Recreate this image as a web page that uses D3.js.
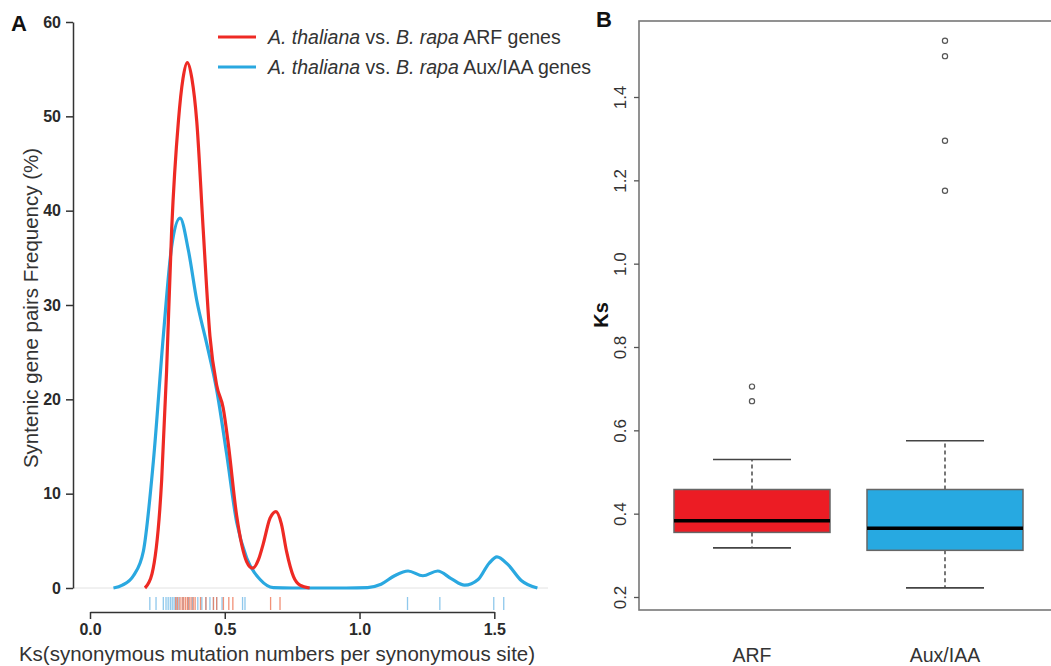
<!DOCTYPE html>
<html>
<head>
<meta charset="utf-8">
<script src="https://cdn.jsdelivr.net/npm/d3@7"></script>
<style>
  html, body { margin: 0; padding: 0; background: #fff; }
  svg { display: block; font-family: "Liberation Sans", Arial, sans-serif; }
</style>
</head>
<body>
<svg id="chart" width="1051" height="666"></svg>
<script>
// ---------- Panel A data (density curves) ----------
const arfKs   = [0.204, 0.23, 0.266, 0.284, 0.303, 0.328, 0.345, 0.361, 0.378, 0.396, 0.420, 0.445, 0.47, 0.494, 0.513, 0.544, 0.581, 0.603, 0.625, 0.643, 0.668, 0.690, 0.710, 0.729, 0.755, 0.779, 0.815];
const arfFreq = [0.0,   1.5,  11.5,  22.9,  38.0,  49.5,  54.0,  55.7,  54.0,  49.5,  38.0,  26.7,  21.5, 19.1,  15.3,  7.7,   2.8,   2.1,   3.0,   4.7,   7.4,   8.1,   6.8,   3.9,   1.2,   0.3,   0.0];

const auxKs   = [0.087, 0.12, 0.161, 0.198, 0.235, 0.272, 0.303, 0.334, 0.365, 0.396, 0.433, 0.470, 0.507, 0.544, 0.581, 0.631, 0.68, 0.75, 0.95, 1.03, 1.08, 1.13, 1.18, 1.235, 1.29, 1.34, 1.39, 1.44, 1.48, 1.51, 1.55, 1.60, 1.66];
const auxFreq = [0.0,   0.3,  1.3,   3.9,   13.4,  26.7,  36.2,  39.2,  35.8,  30.5,  25.9,  21.0,  14.2,  7.0,   3.2,   0.9,   0.05, 0.0,  0.0,  0.05, 0.4,  1.3,  1.8,  1.3,   1.8,  1.0,  0.3,  0.9,  2.6,  3.3,  2.5,  0.8,  0.0];

// rug values (Ks of individual gene pairs)
const arfRug = [0.318, 0.325, 0.334, 0.342, 0.348, 0.355, 0.362, 0.368, 0.375, 0.383, 0.39, 0.41, 0.43, 0.458, 0.47, 0.495, 0.515, 0.53, 0.67, 0.705];
const auxRug = [0.222, 0.245, 0.272, 0.282, 0.29, 0.298, 0.305, 0.312, 0.32, 0.33, 0.345, 0.365, 0.38, 0.40, 0.415, 0.43, 0.445, 0.458, 0.47, 0.49, 0.566, 0.575, 1.178, 1.298, 1.498, 1.535];

const xTicksA = [0.0, 0.5, 1.0, 1.5];
const yTicksA = [0, 10, 20, 30, 40, 50, 60];

// ---------- Panel B data (box plot summaries) ----------
const boxCats     = ["ARF", "Aux/IAA"];
const boxLow      = [0.318, 0.222];
const boxQ1       = [0.355, 0.312];
const boxMedian   = [0.383, 0.365];
const boxQ3       = [0.458, 0.458];
const boxHigh     = [0.530, 0.575];
const boxOutliers = [[0.670, 0.705], [1.175, 1.295, 1.498, 1.535]];
const yTicksB = [0.2, 0.4, 0.6, 0.8, 1.0, 1.2, 1.4];

const RED = "#ee2a24", BLUE = "#2aa8e0";
const RED_FILL = "#ec1c24", BLUE_FILL = "#27a9e1";
const FONT = "'Liberation Sans', Arial, sans-serif";

const svg = d3.select("#chart");

// ================= Panel A =================
const xA = d3.scaleLinear().domain([0, 1.5]).range([90, 494.3]);
const yA = d3.scaleLinear().domain([0, 60]).range([588, 22]);

// zero reference line
svg.append("line")
  .attr("x1", 74).attr("x2", 548)
  .attr("y1", yA(0)).attr("y2", yA(0))
  .attr("stroke", "#e2e2e2").attr("stroke-width", 1);

// y axis
const gyA = svg.append("g").attr("transform", "translate(73,0)")
  .call(d3.axisLeft(yA).tickValues(yTicksA).tickFormat(d3.format("d")).tickSize(7).tickSizeOuter(0).tickPadding(5));
// x axis
const gxA = svg.append("g").attr("transform", "translate(0,612)")
  .call(d3.axisBottom(xA).tickValues(xTicksA).tickFormat(d3.format(".1f")).tickSize(7).tickSizeOuter(0).tickPadding(5));

[gyA, gxA].forEach(g => {
  g.selectAll("path.domain").attr("stroke", "#333").attr("stroke-width", 1.5);
  g.selectAll(".tick line").attr("stroke", "#333").attr("stroke-width", 1.5);
  g.selectAll(".tick text").attr("fill", "#2a2a2a").style("font-size", "16px")
    .style("font-weight", "bold").style("font-family", FONT);
});

// rug
const rugG = svg.append("g");
rugG.selectAll("line.aux").data(auxRug).enter().append("line")
  .attr("class", "aux")
  .attr("x1", d => xA(d)).attr("x2", d => xA(d))
  .attr("y1", 597).attr("y2", 610)
  .attr("stroke", "#7cbfe9").attr("stroke-width", 1.3).attr("opacity", 0.85);
rugG.selectAll("line.arf").data(arfRug).enter().append("line")
  .attr("class", "arf")
  .attr("x1", d => xA(d)).attr("x2", d => xA(d))
  .attr("y1", 597).attr("y2", 610)
  .attr("stroke", "#ef7656").attr("stroke-width", 1.3).attr("opacity", 0.8);

// density curves
const line = d3.line().x(d => xA(d[0])).y(d => yA(d[1])).curve(d3.curveMonotoneX);
svg.append("path").datum(auxKs.map((k, i) => [k, auxFreq[i]]))
  .attr("d", line).attr("fill", "none").attr("stroke", BLUE).attr("stroke-width", 3.2)
  .attr("stroke-linejoin", "round");
svg.append("path").datum(arfKs.map((k, i) => [k, arfFreq[i]]))
  .attr("d", line).attr("fill", "none").attr("stroke", RED).attr("stroke-width", 3.2)
  .attr("stroke-linejoin", "round");

// legend
const legend = [
  { color: RED, tail: " ARF genes", y: 37 },
  { color: BLUE, tail: " Aux/IAA genes", y: 67 }
];
legend.forEach(l => {
  svg.append("line").attr("x1", 218).attr("x2", 256).attr("y1", l.y).attr("y2", l.y)
    .attr("stroke", l.color).attr("stroke-width", 3.2);
  const t = svg.append("text").attr("x", 268).attr("y", l.y + 7)
    .attr("fill", "#333").style("font-size", "19.5px");
  t.append("tspan").style("font-style", "italic").text("A. thaliana");
  t.append("tspan").text(" vs. ");
  t.append("tspan").style("font-style", "italic").text("B. rapa");
  t.append("tspan").text(l.tail);
});

// axis titles
svg.append("text").attr("x", 277).attr("y", 661).attr("text-anchor", "middle")
  .attr("fill", "#333").style("font-size", "20.5px")
  .text("Ks(synonymous mutation numbers per synonymous site)");
svg.append("text").attr("transform", "translate(38,308) rotate(-90)").attr("text-anchor", "middle")
  .attr("fill", "#333").style("font-size", "20.5px")
  .text("Syntenic gene pairs Frequency (%)");

// panel letter
svg.append("text").attr("x", 11).attr("y", 31).style("font-size", "22px").style("font-weight", "bold")
  .attr("fill", "#111").text("A");

// ================= Panel B =================
const xB = d3.scaleBand().domain(boxCats).range([655.5, 1041.5]);
const yB = d3.scaleLinear().domain([0.2, 1.4]).range([597, 97]);
const boxW = 156, capW = 78;

// frame
svg.append("rect").attr("x", 639).attr("y", 21).attr("width", 430).attr("height", 589)
  .attr("fill", "none").attr("stroke", "#777").attr("stroke-width", 1.6);

// y axis
const gyB = svg.append("g").attr("transform", "translate(639,0)")
  .call(d3.axisLeft(yB).tickValues(yTicksB).tickFormat(d3.format(".1f")).tickSize(5).tickSizeOuter(0).tickPadding(4));
gyB.select("path.domain").remove();
gyB.selectAll(".tick line").attr("stroke", "#555").attr("stroke-width", 1.3);
gyB.selectAll(".tick text")
  .attr("x", null).attr("dy", null)
  .attr("text-anchor", "middle")
  .attr("transform", "translate(-13,0) rotate(-90)")
  .attr("fill", "#333").style("font-size", "17px")
  .style("font-family", FONT);

// boxes
boxCats.forEach((c, i) => {
  const cx = xB(c) + xB.bandwidth() / 2;
  const fill = i === 0 ? RED_FILL : BLUE_FILL;
  const g = svg.append("g");
  // whiskers (dashed)
  g.append("line").attr("x1", cx).attr("x2", cx).attr("y1", yB(boxQ3[i])).attr("y2", yB(boxHigh[i]))
    .attr("stroke", "#555").attr("stroke-width", 1.6).attr("stroke-dasharray", "4,3");
  g.append("line").attr("x1", cx).attr("x2", cx).attr("y1", yB(boxQ1[i])).attr("y2", yB(boxLow[i]))
    .attr("stroke", "#555").attr("stroke-width", 1.6).attr("stroke-dasharray", "4,3");
  // caps
  [boxLow[i], boxHigh[i]].forEach(v => {
    g.append("line").attr("x1", cx - capW / 2).attr("x2", cx + capW / 2).attr("y1", yB(v)).attr("y2", yB(v))
      .attr("stroke", "#444").attr("stroke-width", 1.6);
  });
  // box
  g.append("rect").attr("x", cx - boxW / 2).attr("width", boxW)
    .attr("y", yB(boxQ3[i])).attr("height", yB(boxQ1[i]) - yB(boxQ3[i]))
    .attr("fill", fill).attr("stroke", "#666").attr("stroke-width", 1.5);
  // median
  g.append("line").attr("x1", cx - boxW / 2).attr("x2", cx + boxW / 2)
    .attr("y1", yB(boxMedian[i])).attr("y2", yB(boxMedian[i]))
    .attr("stroke", "#000").attr("stroke-width", 3.5);
  // outliers
  g.selectAll("circle").data(boxOutliers[i]).enter().append("circle")
    .attr("cx", cx).attr("cy", d => yB(d)).attr("r", 2.6)
    .attr("fill", "none").attr("stroke", "#555").attr("stroke-width", 1.2);
  // category label
  svg.append("text").attr("x", cx).attr("y", 662).attr("text-anchor", "middle")
    .attr("fill", "#333").style("font-size", "19.5px").text(c);
});

// Ks label
svg.append("text").attr("transform", "translate(608,315) rotate(-90)").attr("text-anchor", "middle")
  .attr("fill", "#111").style("font-size", "20px").style("font-weight", "bold").text("Ks");

svg.append("text").attr("x", 596).attr("y", 27).style("font-size", "22px").style("font-weight", "bold")
  .attr("fill", "#111").text("B");
</script>
</body>
</html>
